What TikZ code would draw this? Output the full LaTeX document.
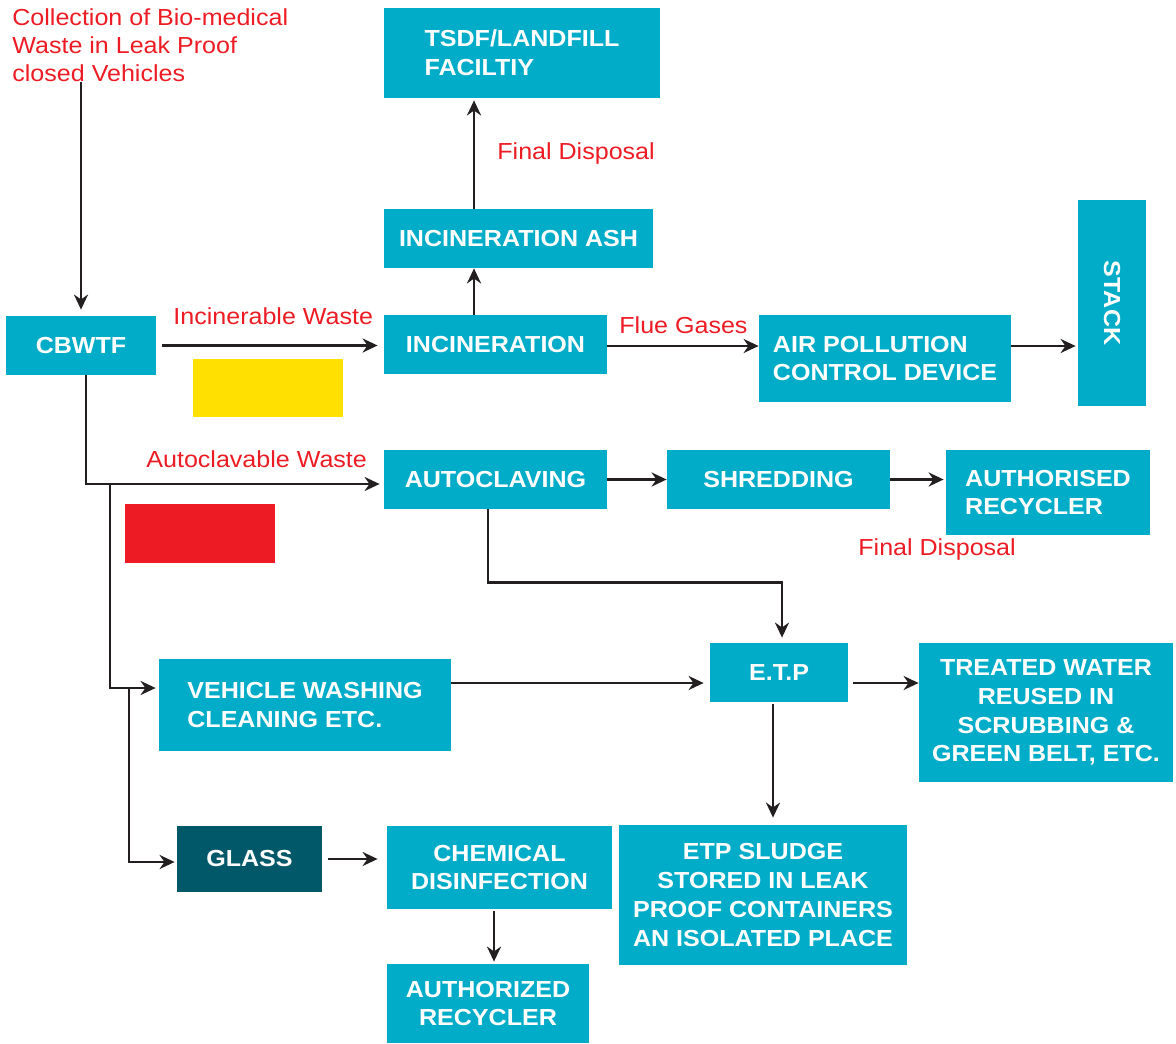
\documentclass[tikz,border=0pt]{standalone}
\usepackage{fontspec}
\setmainfont[FakeStretch=1.08]{Liberation Sans}
\usetikzlibrary{arrows.meta}

\definecolor{boxcyan}{RGB}{0,172,200}
\definecolor{glassteal}{RGB}{0,88,104}
\definecolor{labelred}{RGB}{237,28,36}
\definecolor{linedark}{RGB}{35,31,32}
\definecolor{flagyellow}{RGB}{255,224,0}

\tikzset{
    box/.style={fill=boxcyan, text=white, inner sep=0pt, align=center,
        font=\fontsize{11.6}{14.4}\selectfont\bfseries},
    lbl/.style={text=labelred, inner sep=0pt, align=left,
        font=\fontsize{11.6}{14}\selectfont},
    arr/.style={draw=linedark, line width=1.4pt, -{Stealth[length=7.5pt,width=7pt]}}
}

\begin{document}
\begin{tikzpicture}[x=0.5pt,y=-0.5pt]
            \useasboundingbox (0,0) rectangle (1176,1043);

            % Boxes of the process
            \node[box, minimum width=75pt, minimum height=29.5pt] (cbwtf) at (81,345.5) {CBWTF};
            \node[box, align=left, minimum width=138pt, minimum height=45pt] (tsdf) at (522,53) {TSDF/LANDFILL\\FACILTIY};
            \node[box, minimum width=134.5pt, minimum height=29.5pt] (ash) at (518.5,238.5) {INCINERATION ASH};
            \node[box, minimum width=111.5pt, minimum height=29.5pt] (incin) at (495.5,344.5) {INCINERATION};
            \node[box, align=left, minimum width=126pt, minimum height=43.5pt] (apc) at (885,358.5) {AIR POLLUTION\\CONTROL DEVICE};
            \node[box, minimum width=34pt, minimum height=103pt] (stack) at (1112,303) {\rotatebox{-90}{STACK}};
            \node[box, minimum width=111.5pt, minimum height=29.5pt] (autoclave) at (495.5,479.5) {AUTOCLAVING};
            \node[box, minimum width=111.5pt, minimum height=29.5pt] (shred) at (778.5,479.5) {SHREDDING};
            \node[box, align=left, minimum width=102pt, minimum height=42.5pt] (recycler) at (1048,492.5) {AUTHORISED\\RECYCLER};
            \node[box, minimum width=69pt, minimum height=29.5pt] (etp) at (779,672.5) {E.T.P};
            \node[box, align=left, minimum width=146pt, minimum height=46pt] (washing) at (305,705) {VEHICLE WASHING\\CLEANING ETC.};
            \node[box, minimum width=127pt, minimum height=69.5pt] (water) at (1046,712.5) {TREATED WATER\\REUSED IN\\SCRUBBING \&\\GREEN BELT, ETC.};
            \node[box, minimum width=144pt, minimum height=70pt] (sludge) at (763,895) {ETP SLUDGE\\STORED IN LEAK\\PROOF CONTAINERS\\AN ISOLATED PLACE};
            \node[box, fill=glassteal, minimum width=72.5pt, minimum height=33pt] (glass) at (249.5,859) {GLASS};
            \node[box, minimum width=112.5pt, minimum height=41.5pt] (chem) at (499.5,867.5) {CHEMICAL\\DISINFECTION};
            \node[box, minimum width=101pt, minimum height=39.5pt] (authorized) at (488,1003.5) {AUTHORIZED\\RECYCLER};

            % Colour flags
            \fill[flagyellow] (193,359) rectangle (343,417);
            \fill[labelred] (125,504) rectangle (275,563);

            % Red labels
            \node[lbl, anchor=north west] (collect) at (12,8) {Collection of Bio-medical\\Waste in Leak Proof\\closed Vehicles};
            \node[lbl, anchor=base west] (incinlbl) at (173,324) {Incinerable Waste};
            \node[lbl, anchor=base west] (ashlbl) at (497,160) {Final Disposal};
            \node[lbl, anchor=base west] (fluelbl) at (619,333) {Flue Gases};
            \node[lbl, anchor=base west] (autolbl) at (146,467) {Autoclavable Waste};
            \node[lbl, anchor=base west] (recyclbl) at (858,555) {Final Disposal};

            % Branch points
            \coordinate (split1) at (110,484);
            \coordinate (split2) at (129,688);

            % Arrows
            \draw[arr, shorten >=3pt] (collect.south -| cbwtf.north) -- (cbwtf.north);
            \draw[arr, shorten <=3pt, shorten >=3pt] (cbwtf.east) -- (cbwtf.east -| incin.west);
            \draw[arr] ([xshift=-10.75pt]incin.north) -- ([xshift=-22.25pt]ash.south);
            \draw[arr, shorten >=1pt] ([xshift=-22.25pt]ash.north) -- ([xshift=-24pt]tsdf.south);
            \draw[arr] ([yshift=-0.75pt]incin.east) -- ([yshift=6.25pt]apc.west);
            \draw[arr, shorten >=1pt] ([yshift=6.25pt]apc.east) -- ([yshift=-21.5pt]stack.west);
            \draw[arr, shorten >=2pt] ([xshift=2.5pt]cbwtf.south) |- ([yshift=-2.25pt]autoclave.west);
            \draw[arr, shorten >=1.5pt] (split1) |- ([yshift=8.5pt]washing.west);
            \draw[arr, shorten >=1pt] (split2) |- ([yshift=-1.5pt]glass.west);
            \draw[arr] (autoclave.east) -- (shred.west);
            \draw[arr, shorten >=1pt] (shred.east) -- (shred.east -| recycler.west);
            \draw[arr, shorten >=2.5pt] ([xshift=-3.75pt]autoclave.south) -- ++(0,73) -| ([xshift=1.5pt]etp.north);
            \draw[arr, shorten >=3pt] ([yshift=11pt]washing.east) -- ([yshift=-5.25pt]etp.west);
            \draw[arr, shorten <=2.5pt] ([yshift=-5.25pt]etp.east) -- ([yshift=14.75pt]water.west);
            \draw[arr, shorten <=1pt, shorten >=3.5pt] ([xshift=-3pt]etp.south) -- ([xshift=5pt]sludge.north);
            \draw[arr, shorten <=3pt, shorten >=4.5pt] (glass.east) -- (glass.east -| chem.west);
            \draw[arr, shorten <=1pt, shorten >=1pt] ([xshift=-2.75pt]chem.south) -- ([xshift=3pt]authorized.north);

\end{tikzpicture}
\end{document}
